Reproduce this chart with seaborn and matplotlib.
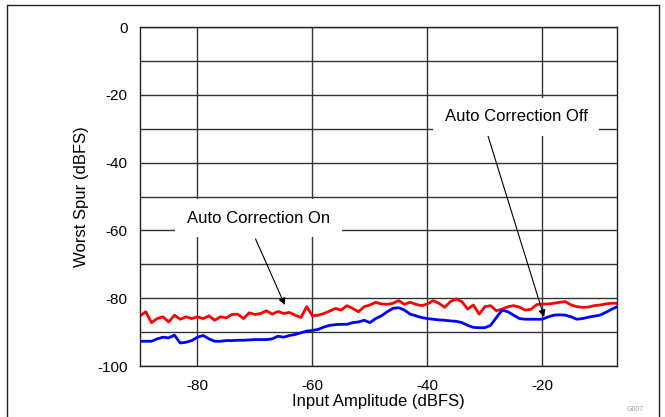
import numpy as np
import pandas as pd
import seaborn as sns
import matplotlib.pyplot as plt
from matplotlib.lines import Line2D

# Input amplitude (dBFS)
amplitude = list(range(-90, -6))

# Worst spur with auto correction on (red)
spur_on = [-85.2, -84.0, -87.2, -86.0, -85.5, -87.0, -85.0, -86.2, -85.5, -86.0,
           -85.5, -86.0, -85.2, -86.5, -85.5, -85.8, -84.8, -84.7, -86.0, -84.3,
           -84.8, -84.5, -83.7, -84.7, -83.9, -84.5, -84.2, -85.0, -85.7, -82.5,
           -85.2, -85.0, -84.5, -83.8, -83.0, -83.5, -82.2, -83.0, -84.0, -82.5,
           -82.0, -81.2, -81.7, -81.8, -81.5, -80.7, -81.8, -81.2, -81.8, -82.2,
           -81.7, -80.7, -81.5, -82.7, -81.0, -80.2, -81.0, -83.2, -82.0, -84.7,
           -82.5, -82.2, -83.7, -83.2, -82.5, -82.2, -82.6, -83.5, -83.3, -81.9,
           -81.7, -81.7, -81.5, -81.2, -81.0, -82.0, -82.5, -82.7, -82.6, -82.2,
           -82.0, -81.7, -81.5, -81.5]

# Worst spur with auto correction off (blue)
spur_off = [-92.7, -92.7, -92.7, -92.0, -91.5, -91.7, -90.9, -93.2, -93.0, -92.5,
            -91.5, -91.0, -92.0, -92.7, -92.7, -92.5, -92.5, -92.4, -92.4, -92.3,
            -92.2, -92.2, -92.2, -92.0, -91.2, -91.5, -91.0, -90.7, -90.2, -89.7,
            -89.5, -89.2, -88.5, -88.0, -87.8, -87.7, -87.7, -87.2, -87.0, -86.5,
            -87.2, -86.0, -85.2, -84.0, -83.0, -82.8, -83.5, -84.7, -85.2, -85.7,
            -86.0, -86.2, -86.4, -86.5, -86.7, -86.8, -87.2, -88.0, -88.6, -88.7,
            -88.7, -88.0, -85.7, -83.5, -84.0, -85.0, -86.0, -86.2, -86.2, -86.2,
            -86.2, -85.5, -85.0, -84.9, -85.0, -85.5, -86.2, -86.0, -85.6, -85.3,
            -85.0, -84.2, -83.3, -82.5]

df = pd.DataFrame({
    'Input Amplitude (dBFS)': amplitude * 2,
    'Worst Spur (dBFS)': spur_on + spur_off,
    'Mode': ['On'] * len(spur_on) + ['Off'] * len(spur_off),
})

sns.set_style('white')
plt.rcParams['font.family'] = ['Liberation Sans Narrow', 'Liberation Sans', 'DejaVu Sans']
plt.rcParams['axes.unicode_minus'] = False
plt.rcParams['text.color'] = 'black'
plt.rcParams['axes.labelcolor'] = 'black'
plt.rcParams['xtick.color'] = 'black'
plt.rcParams['ytick.color'] = 'black'

fig = plt.figure(figsize=(6.65, 4.17), dpi=100)
ax = fig.add_axes([0.2105, 0.1223, 0.7175, 0.8127])

sns.lineplot(data=df, x='Input Amplitude (dBFS)', y='Worst Spur (dBFS)', hue='Mode',
             palette={'On': '#ff0000', 'Off': '#0000ff'}, linewidth=2,
             legend=False, ax=ax)

ax.set_xlim(-90, -7)
ax.set_ylim(-100, 0)
ax.set_xticks([-80, -60, -40, -20])
ax.set_yticks(np.arange(-100, 1, 20))
ax.set_yticks(np.arange(-90, 0, 20), minor=True)
ax.grid(True, which='both', color='#333333', linewidth=1)
ax.tick_params(length=0, labelsize=11, pad=9)
ax.tick_params(axis='y', which='minor', length=0)
for s in ax.spines.values():
    s.set_color('#222222')
    s.set_linewidth(1)
ax.set_xlabel('Input Amplitude (dBFS)', fontsize=12, labelpad=1)
ax.set_ylabel('Worst Spur (dBFS)', fontsize=12, labelpad=6)

box = dict(boxstyle='square,pad=0.7', fc='white', ec='none')
arrow = dict(arrowstyle='-|>', color='black', lw=0.8, mutation_scale=10, shrinkA=0, shrinkB=0)
ax.annotate('', xy=(-64.8, -82.0), xytext=(-69.9, -62.5), arrowprops=arrow)
ax.annotate('', xy=(-19.7, -85.5), xytext=(-29.5, -31.9), arrowprops=arrow)
ax.text(-69.4, -56.4, 'Auto Correction On', ha='center', va='center', fontsize=12, bbox=box)
ax.text(-24.6, -26.5, 'Auto Correction Off', ha='center', va='center', fontsize=12, bbox=box)

# outer frame of the figure
for xs, ys in [([0.0105, 0.0105], [0, 0.988]), ([0.0105, 0.991], [0.988, 0.988]),
               ([0.991, 0.991], [0, 0.988])]:
    fig.add_artist(Line2D(xs, ys, transform=fig.transFigure, color='#222222', lw=1))

fig.text(0.955, 0.015, 'G007', fontsize=5, color='#999999', ha='center')

fig.savefig('out.png', dpi=100)
